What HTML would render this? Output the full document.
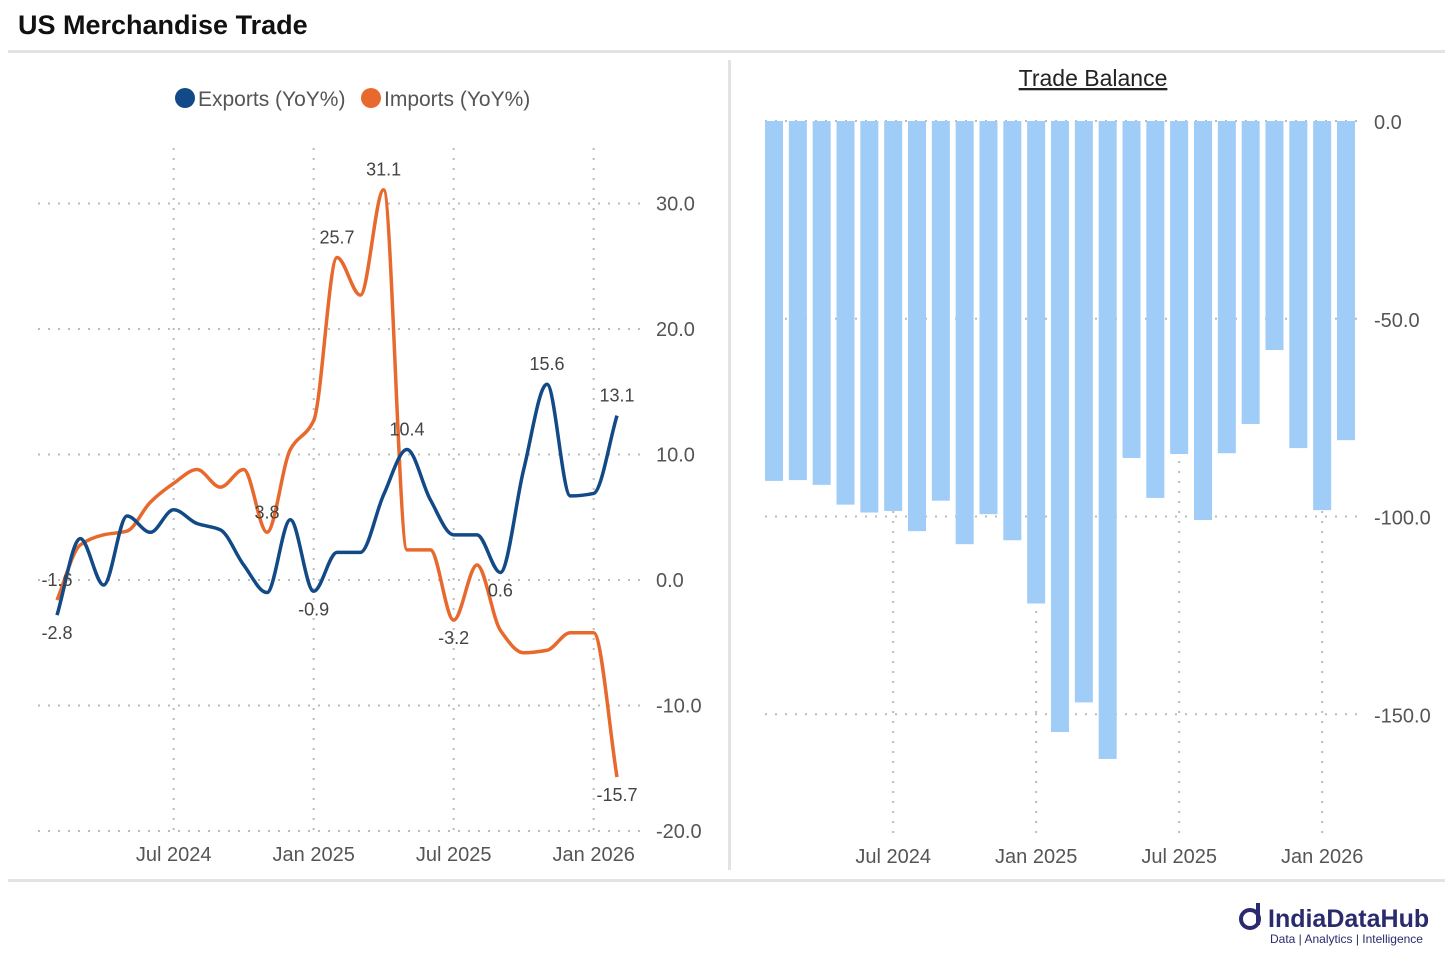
<!DOCTYPE html>
<html><head><meta charset="utf-8"><style>
body{margin:0;background:#fff;font-family:"Liberation Sans",sans-serif;}
svg text{font-family:"Liberation Sans",sans-serif;}
</style></head><body>
<svg width="1456" height="957" viewBox="0 0 1456 957">
<text x="18" y="34" font-size="27" font-weight="bold" fill="#111">US Merchandise Trade</text>
<rect x="8" y="50" width="1437" height="3" fill="#e3e3e3"/>
<rect x="8" y="879" width="1437" height="3" fill="#e3e3e3"/>
<rect x="728" y="60" width="3" height="810" fill="#e3e3e3"/>
<g id="left"></g>
<g id="right"></g>
<g>
<circle cx="1250" cy="919" r="9" fill="none" stroke="#2a2a6e" stroke-width="4"/>
<rect x="1256" y="903" width="4" height="22" fill="#2a2a6e"/>
<text x="1268" y="927" font-size="25" font-weight="bold" fill="#2a2a6e">IndiaDataHub</text>
<text x="1270" y="943" font-size="12" fill="#2a2a6e">Data | Analytics | Intelligence</text>
</g>
</svg>
<script>
const months=['Feb24','Mar24','Apr24','May24','Jun24','Jul24','Aug24','Sep24','Oct24','Nov24','Dec24','Jan25','Feb25','Mar25','Apr25','May25','Jun25','Jul25','Aug25','Sep25','Oct25','Nov25','Dec25','Jan26','Feb26'];
const exportsYoY=[-2.8,3.3,-0.4,5.1,3.8,5.6,4.5,4.0,1.2,-1.0,4.8,-0.9,2.2,2.2,6.8,10.4,6.4,3.6,3.6,0.6,8.8,15.6,6.7,6.9,13.1];
const importsYoY=[-1.6,2.8,3.6,3.9,6.2,7.7,8.8,7.4,8.8,3.8,10.4,12.7,25.7,22.7,31.1,2.4,2.4,-3.2,1.2,-4.0,-5.8,-5.6,-4.2,-4.2,-15.7];
const tradeBalance=[-91,-90.8,-92,-97,-99,-98.6,-103.7,-96,-107,-99.4,-106,-122,-154.5,-147,-161.3,-85.2,-95.3,-84.2,-100.9,-84,-76.6,-57.9,-82.7,-98.4,-80.7];
const leftTicks=[30,20,10,0,-10,-20];
const rightTicks=[0,-50,-100,-150];
const xTickLabels=['Jul 2024','Jan 2025','Jul 2025','Jan 2026'];
const xTickIdx=[5,11,17,23];
const exportLabels={0:'-2.8',11:'-0.9',15:'10.4',19:'0.6',21:'15.6',24:'13.1'};
const importLabels={0:'-1.6',9:'3.8',12:'25.7',14:'31.1',17:'-3.2',24:'-15.7'};

const NS='http://www.w3.org/2000/svg';
function mk(p,t,a,txt){const e=document.createElementNS(NS,t);for(const k in a)e.setAttribute(k,a[k]);if(txt!==undefined)e.textContent=txt;p.appendChild(e);return e;}
const L=document.getElementById('left'),R=document.getElementById('right');
const lx=i=>57+i*(617-57)/24;
const ly=v=>580-v*12.55;
leftTicks.forEach(t=>{
 const g=mk(L,'line',{x1:38,x2:640,y1:ly(t),y2:ly(t),stroke:'#bbb','stroke-width':2,'stroke-dasharray':'2 8'});
 
 const tx=mk(L,'text',{x:656,y:ly(t)+7,'font-size':20,fill:'#555'},t.toFixed(1));
 
});
xTickIdx.forEach((ix,k)=>{
 const g=mk(L,'line',{x1:lx(ix),x2:lx(ix),y1:148,y2:835,stroke:'#bbb','stroke-width':2,'stroke-dasharray':'2 8'});
 
 const tx=mk(L,'text',{x:lx(ix),y:861,'font-size':20,fill:'#555','text-anchor':'middle'},xTickLabels[k]);
 
});
function smooth(vals){
 const p=vals.map((v,i)=>[lx(i),ly(v)]);const n=p.length;
 const s=[];for(let i=0;i<n-1;i++)s.push((p[i+1][1]-p[i][1])/(p[i+1][0]-p[i][0]));
 const m=[];for(let i=0;i<n;i++){
  if(i==0)m.push(s[0]);else if(i==n-1)m.push(s[n-2]);
  else if(s[i-1]*s[i]<=0)m.push(0);else m.push(2/(1/s[i-1]+1/s[i]));}
 let d='M'+p[0][0]+','+p[0][1];
 for(let i=0;i<n-1;i++){const h=(p[i+1][0]-p[i][0])/3;
  d+=' C'+(p[i][0]+h)+','+(p[i][1]+m[i]*h)+' '+(p[i+1][0]-h)+','+(p[i+1][1]-m[i+1]*h)+' '+p[i+1][0]+','+p[i+1][1];}
 return d;}
const ip=mk(L,'path',{d:smooth(importsYoY),fill:'none',stroke:'#e8692e','stroke-width':3.5});

const ep=mk(L,'path',{d:smooth(exportsYoY),fill:'none',stroke:'#124a87','stroke-width':3.5});

function labels(vals,map,below){for(const k in map){const i=+k;const v=vals[i];
 let dy=(below[i]?24:-14);
 const tx=mk(L,'text',{x:lx(i),y:ly(v)+dy,'font-size':18,fill:'#444','text-anchor':'middle'},map[k]);
 }}
labels(exportsYoY,exportLabels,{0:1,11:1,19:1});
labels(importsYoY,importLabels,{0:0,17:1,24:1});
const lg=mk(L,'g',{});
const c1=mk(lg,'circle',{cx:185,cy:98,r:10,fill:'#124a87'});
const t1=mk(lg,'text',{x:198,y:106,'font-size':21,fill:'#555'},'Exports (YoY%)');
const c2=mk(lg,'circle',{cx:371,cy:98,r:10,fill:'#e8692e'});
const t2=mk(lg,'text',{x:384,y:106,'font-size':21,fill:'#555'},'Imports (YoY%)');
const rx=i=>774+i*(1346-774)/24;
const ry=v=>121-v*3.955;
const rt=mk(R,'text',{x:1093,y:86,'font-size':23,fill:'#222','text-anchor':'middle','text-decoration':'underline'},'Trade Balance');

rightTicks.forEach(t=>{
 const g=mk(R,'line',{x1:765,x2:1360,y1:ry(t),y2:ry(t),stroke:'#bbb','stroke-width':2,'stroke-dasharray':'2 8'});
 
 const tx=mk(R,'text',{x:1374,y:ry(t)+8,'font-size':20,fill:'#555'},t.toFixed(1));
 
});
xTickIdx.forEach((ix,k)=>{
 const g=mk(R,'line',{x1:rx(ix),x2:rx(ix),y1:121,y2:838,stroke:'#bbb','stroke-width':2,'stroke-dasharray':'2 8'});
 
 const tx=mk(R,'text',{x:rx(ix),y:863,'font-size':20,fill:'#555','text-anchor':'middle'},xTickLabels[k]);
 
});
tradeBalance.forEach((v,i)=>{
 const b=mk(R,'rect',{x:rx(i)-9,y:ry(0),width:18,height:ry(v)-ry(0),fill:'#9fcdf7'});
 
 
});
</script>
</body></html>
